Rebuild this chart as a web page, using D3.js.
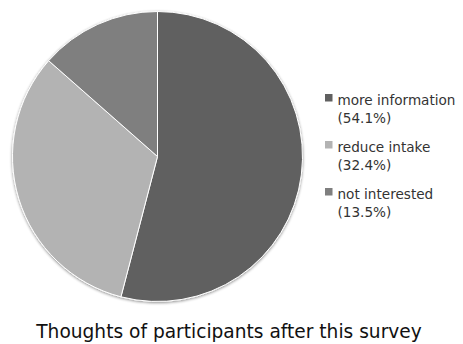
<!DOCTYPE html>
<html>
<head>
<meta charset="utf-8">
<script src="https://cdn.jsdelivr.net/npm/d3@7"></script>
<style>
html,body{margin:0;padding:0;background:#fff;}
svg{display:block;}
</style>
</head>
<body>
<svg id="chart" width="463" height="344"></svg>
<script>
const categories = ["more information", "reduce intake", "not interested"];
const counts = [20, 12, 5];
const percentLabels = ["(54.1%)", "(32.4%)", "(13.5%)"];
const colors = ["#606060", "#b3b3b3", "#7f7f7f"];
const title = "Thoughts of participants after this survey";

const svg = d3.select("#chart");
const cx = 157.5, cy = 156.5, r = 145;
const FONT = "'DejaVu Sans', sans-serif";

const defs = svg.append("defs");
const f = defs.append("filter").attr("id","sh").attr("x","-10%").attr("y","-10%").attr("width","120%").attr("height","120%");
f.append("feGaussianBlur").attr("in","SourceAlpha").attr("stdDeviation",1.5).attr("result","b");
f.append("feOffset").attr("in","b").attr("dx",0).attr("dy",1).attr("result","o");
f.append("feComponentTransfer").attr("in","o").attr("result","o2")
  .append("feFuncA").attr("type","linear").attr("slope",0.45);
const m = f.append("feMerge");
m.append("feMergeNode").attr("in","o2");
m.append("feMergeNode").attr("in","SourceGraphic");

const pie = d3.pie().sort(null).value(d => d)(counts);
const arc = d3.arc().innerRadius(0).outerRadius(r);

const g = svg.append("g").attr("transform", `translate(${cx},${cy})`).attr("filter","url(#sh)");
g.selectAll("path").data(pie).join("path")
  .attr("d", arc)
  .attr("fill", (d,i) => colors[i])
  .attr("stroke", "#ffffff")
  .attr("stroke-width", 1)
  .attr("stroke-linejoin","round");

const legendY = d3.scaleLinear().domain([0, 1]).range([94, 141]);
const lg = svg.append("g");
categories.forEach((c, i) => {
  const y = legendY(i);
  lg.append("rect").attr("x", 325).attr("y", y).attr("width", 7.5).attr("height", 7.5).attr("fill", colors[i]);
  lg.append("text").attr("x", 337.5).attr("y", y + 11)
    .attr("font-family", FONT)
    .attr("font-size", 13.6).attr("fill", "#333")
    .text(c);
  lg.append("text").attr("x", 337.5).attr("y", y + 28.5)
    .attr("font-family", FONT)
    .attr("font-size", 13.6).attr("fill", "#333")
    .text(percentLabels[i]);
});

svg.append("text").attr("x", 229).attr("y", 338)
  .attr("text-anchor", "middle")
  .attr("font-family", FONT)
  .attr("font-size", 18.6).attr("fill", "#111")
  .text(title);
</script>
</body>
</html>
